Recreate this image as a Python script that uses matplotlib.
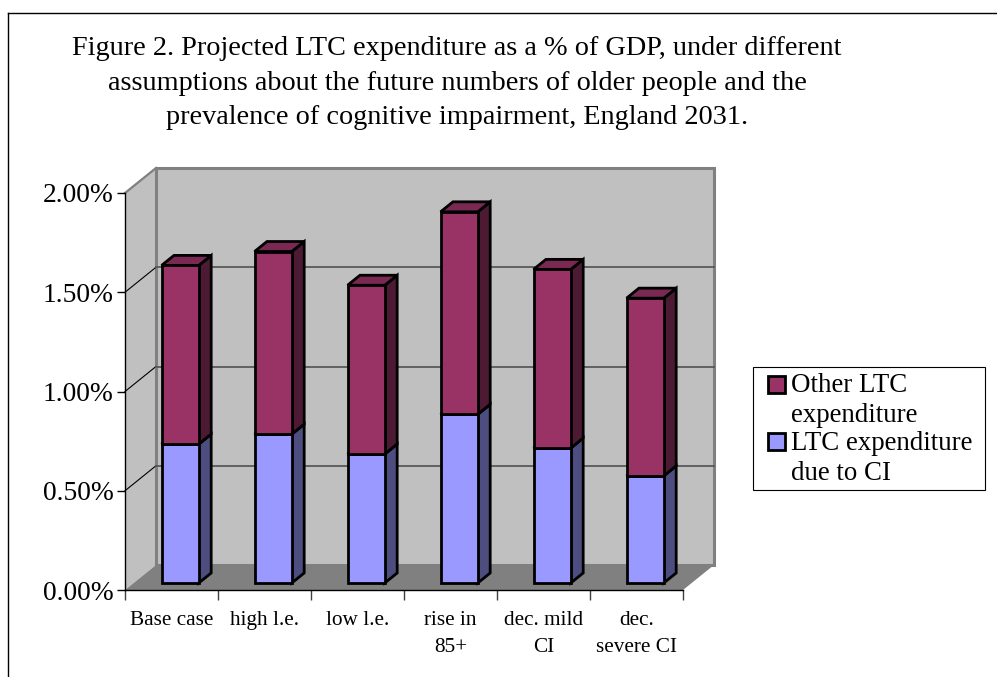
import matplotlib
matplotlib.use("Agg")
import matplotlib.pyplot as plt
import numpy as np
from matplotlib.lines import Line2D
from matplotlib.patches import Rectangle

plt.rcParams['font.family'] = ['Liberation Serif']

categories = ['Base case', 'high l.e.', 'low l.e.', 'rise in\n85+', 'dec. mild\nCI', 'dec.\nsevere CI']
ci_values = [0.70, 0.75, 0.65, 0.85, 0.68, 0.54]
other_values = [0.90, 0.92, 0.85, 1.02, 0.90, 0.895]
y_ticks = [0.0, 0.5, 1.0, 1.5, 2.0]
title_lines = ['Figure 2. Projected LTC expenditure as a % of GDP, under different',
               'assumptions about the future numbers of older people and the',
               'prevalence of cognitive impairment, England 2031.']
legend_lines = ['Other LTC', 'expenditure', 'LTC expenditure', 'due to CI']

W, H = 997, 677
# full depth of the box in data units
DX = 31 / 93.0
DY = 25 / 198.5
bar_w = 0.4
d0, d1 = 0.28, 0.68

def depth(x, v, d):
    return x + d * DX, v + d * DY

def px_rect(x0, y0, x1, y1, **kw):
    # rectangle given in picture pixels, y down
    fig.patches.append(Rectangle((x0 / W, (H - y1) / H), (x1 - x0) / W, (y1 - y0) / H,
                                 transform=fig.transFigure, **kw))

fig = plt.figure(figsize=(W / 100, H / 100), dpi=100)
# page frame: only the top and left edges are inside the picture
fig.add_artist(Line2D([7.5 / W, 1], [(H - 12.5) / H] * 2, color='black', lw=1.0))
fig.add_artist(Line2D([7.5 / W] * 2, [0, (H - 12.5) / H], color='black', lw=1.0))

ax = fig.add_axes([125 / W, (H - 590) / H, 558 / W, 397 / H])
ax.set_xlim(0, 6)
ax.set_ylim(0, 2)
ax.patch.set_visible(False)

# walls and floor
back = [depth(0, 0, 1), depth(6, 0, 1), depth(6, 2, 1), depth(0, 2, 1)]
left = [depth(0, 0, 0), depth(0, 0, 1), depth(0, 2, 1), depth(0, 2, 0)]
floor = [depth(0, 0, 0), depth(6, 0, 0), depth(6, 0, 1), depth(0, 0, 1)]
ax.fill(*zip(*left), facecolor='#c0c0c0', edgecolor='none', clip_on=False, zorder=1)
ax.fill(*zip(*back), facecolor='#c0c0c0', edgecolor='#808080', linewidth=2.2, clip_on=False, zorder=1)
ax.plot(*zip(depth(0, 2, 0), depth(0, 2, 1)), color='#808080', lw=1.6, clip_on=False, zorder=1.1)
ax.fill(*zip(*floor), facecolor='#808080', edgecolor='none', clip_on=False, zorder=1.2)

for t in y_ticks[1:-1]:
    ax.plot(*zip(depth(0, t, 0), depth(0, t, 1)), color='black', lw=0.8, clip_on=False, zorder=1.3)
    ax.plot(*zip(depth(0, t, 1), depth(6, t, 1)), color='#595959', lw=1.3, clip_on=False, zorder=1.3)


def draw_segment(i, bottom, height, face, side, top):
    x0 = i + 0.5 - bar_w / 2
    x1 = x0 + bar_w
    fx0, fy0 = depth(x0, bottom, d0)
    ax.bar(fx0, height, bottom=fy0, width=bar_w, align='edge', color=face,
           edgecolor='black', linewidth=2.0, clip_on=False, zorder=3)
    v0, v1 = bottom, bottom + height
    side_pts = [depth(x1, v0, d0), depth(x1, v0, d1), depth(x1, v1, d1), depth(x1, v1, d0)]
    ax.fill(*zip(*side_pts), facecolor=side, edgecolor='black', linewidth=2.0,
            joinstyle='miter', clip_on=False, zorder=2.9)
    top_pts = [depth(x0, v1, d0), depth(x1, v1, d0), depth(x1, v1, d1), depth(x0, v1, d1)]
    ax.fill(*zip(*top_pts), facecolor=top, edgecolor='black', linewidth=2.0,
            joinstyle='miter', clip_on=False, zorder=2.9)


for i in range(len(categories)):
    draw_segment(i, 0, ci_values[i], '#9999ff', '#4d4d80', '#7a7acc')
    draw_segment(i, ci_values[i], other_values[i], '#993366', '#4d1a33', '#7a2952')

for s in ['top', 'right']:
    ax.spines[s].set_visible(False)
for s in ['left', 'bottom']:
    ax.spines[s].set_linewidth(1.0)
    ax.spines[s].set_zorder(4)

ax.set_yticks(y_ticks)
ax.set_yticklabels(['%.2f%%' % t for t in y_ticks], fontsize=19.8)
ax.set_xticks(range(7))
ax.set_xticklabels([])
ax.set_xticks(np.arange(6) + 0.5, labels=categories, minor=True, fontsize=15.3, linespacing=1.6)
ax.tick_params(axis='x', which='major', length=7, width=1.0, color='#404040')
ax.tick_params(axis='x', which='minor', length=0, pad=15)
ax.tick_params(axis='y', length=6, width=1.0, pad=2)

for line, y in zip(title_lines, [55, 90, 124]):
    fig.text(457 / W, (H - y) / H, line, ha='center', va='baseline', fontsize=20.3)

# legend box, swatches line up with the first line of each label
px_rect(753, 367, 985, 490, facecolor='white', edgecolor='black', linewidth=0.8)
px_rect(768, 376, 785, 393, facecolor='#993366', edgecolor='black', linewidth=2.0)
px_rect(768, 433, 785, 450, facecolor='#9999ff', edgecolor='black', linewidth=2.0)
for line, y in zip(legend_lines, [392, 422, 450, 480]):
    fig.text(791 / W, (H - y) / H, line, ha='left', va='baseline', fontsize=19.4)

fig.savefig('out.png', dpi=100)
